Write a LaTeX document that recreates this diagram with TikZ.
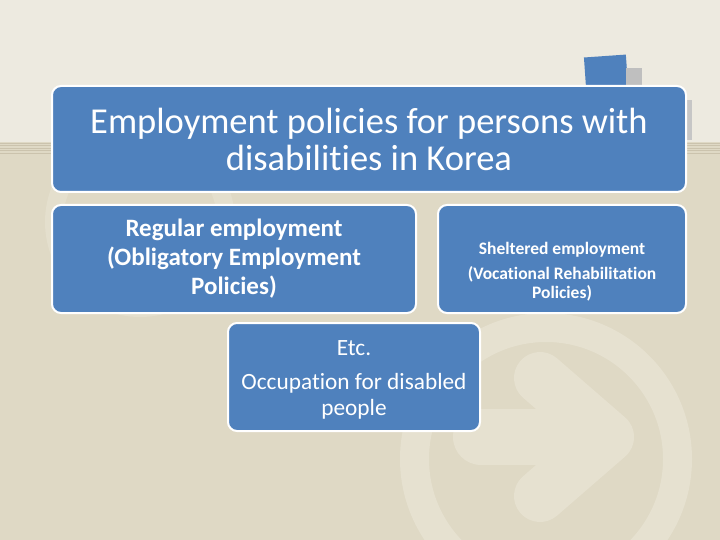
\documentclass[tikz,border=0pt]{standalone}
\usepackage{fontspec}
\setmainfont{Carlito}[Ligatures=NoCommon]
\definecolor{bgtop}{HTML}{EDEAE0}
\definecolor{bglow}{HTML}{DFD9C5}
\definecolor{wmark}{HTML}{E6E1D0}
\definecolor{stripe}{HTML}{CBC3AD}
\definecolor{boxblue}{HTML}{4F81BD}
\tikzset{
  pbox/.style={rectangle, rounded corners=9pt, fill=boxblue, draw=white, line width=2pt, text=white, align=center, inner sep=0pt},
  ptext/.style={text=white, align=center, inner sep=0pt},
}
\begin{document}
\begin{tikzpicture}[x=1pt,y=-1pt]
\useasboundingbox (0,0) rectangle (720,540);
% background
\fill[bgtop] (0,0) rectangle (720,142);
\fill[bglow] (0,142) rectangle (720,540);
\foreach \y in {143,145.5,148,150.5,153}
  \draw[stripe, line width=0.8pt] (0,\y) -- (720,\y);
% watermark rings and arrow
\draw[wmark!70!bglow, line width=18pt] (140,222) circle (86);
\draw[wmark, line width=29pt] (546,459) circle (131.5);
\draw[wmark, line width=56pt, line cap=round] (481,437) -- (600,437);
\draw[wmark, line width=52pt, line cap=round, line join=round] (540,378) -- (608,437) -- (540,496);
% corner decoration
\fill[boxblue, rotate around={4:(606,72)}] (585,56) rectangle (627,92);
\fill[gray!50] (626,68) rectangle (642,88);
\fill[gray!45] (686,100) rectangle (692,140);
% boxes
\node[pbox, minimum width=634pt, minimum height=106pt, font=\fontsize{36.5}{37}\selectfont] (title) at (369,139)
  {Employment policies for persons with\\disabilities in Korea};
\node[pbox, minimum width=364pt, minimum height=108pt, font=\bfseries\fontsize{25}{29}\selectfont] (regular) at (234,259)
  {Regular employment\\(Obligatory Employment\\Policies)};
\node[pbox, minimum width=248pt, minimum height=108pt] (sheltered) at (562,259) {};
\node[ptext, font=\bfseries\fontsize{17.5}{19}\selectfont] (sheltext) at ([yshift=-13pt]sheltered.center)
  {Sheltered employment\\[6pt](Vocational Rehabilitation\\Policies)};
\node[pbox, minimum width=252pt, minimum height=108pt] (etc) at (354,377) {};
\node[ptext, font=\fontsize{23.3}{26}\selectfont] (etctext) at ([yshift=-3pt]etc.center)
  {Etc.\\[8pt]Occupation for disabled\\people};
\end{tikzpicture}
\end{document}
